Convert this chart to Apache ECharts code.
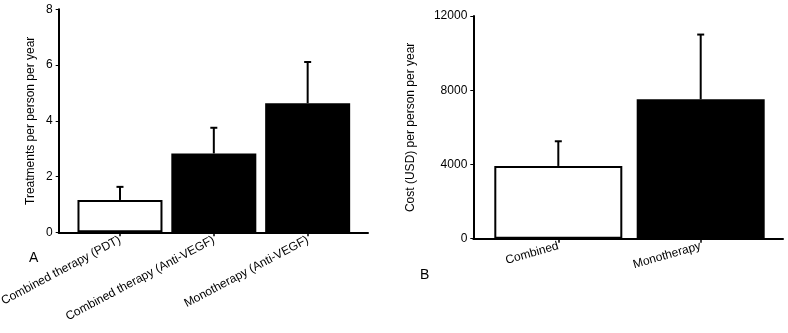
<!DOCTYPE html>
<html>
<head>
<meta charset="utf-8">
<script src="https://cdn.jsdelivr.net/npm/echarts@6/dist/echarts.min.js"></script>
<style>
  html, body { margin: 0; padding: 0; background: #fff; }
  #chart { width: 788px; height: 333px; }
</style>
</head>
<body>
<div id="chart"></div>
<script>
// panel A - treatments
const treatCategories = ['Combined therapy (PDT)', 'Combined therapy (Anti-VEGF)', 'Monotherapy (Anti-VEGF)']
const treatMeans = [1.16, 2.83, 4.63]
const treatUpper = [1.63, 3.75, 6.11]
const treatColors = ['#ffffff', '#000000', '#000000']

// panel B - cost
const costCategories = ['Combined', 'Monotherapy']
const costMeans = [3920, 7510]
const costUpper = [5250, 11000]
const costColors = ['#ffffff', '#000000']

const fontFamily = 'Liberation Sans, Arial, sans-serif'

const myChart = echarts.init(document.getElementById('chart'))

function barData (means, colors) {
  return means.map((v, i) => ({
    value: [i, v],
    itemStyle: {
      color: colors[i],
      borderColor: '#000',
      borderWidth: colors[i] === '#ffffff' ? 2 : 0
    }
  }))
}

function errData (means, upper) {
  return means.map((v, i) => [i, v, upper[i]])
}

// upward error bar with a small cap
function renderErr (params, api) {
  const x = api.value(0)
  const lo = api.coord([x, api.value(1)])
  const hi = api.coord([x, api.value(2)])
  const style = { stroke: '#000', lineWidth: 2, fill: null }
  return {
    type: 'group',
    children: [
      { type: 'line', shape: { x1: lo[0], y1: lo[1], x2: hi[0], y2: hi[1] }, style: style },
      { type: 'line', shape: { x1: hi[0] - 3.5, y1: hi[1], x2: hi[0] + 3.5, y2: hi[1] }, style: style }
    ]
  }
}

function xAxisFor (gridIndex, cats, min, max, rotate) {
  return {
    type: 'value',
    gridIndex: gridIndex,
    min: min,
    max: max,
    splitLine: { show: false },
    axisLine: { show: true, onZero: false, lineStyle: { color: '#000', width: 2 } },
    axisTick: { show: true, length: 4, customValues: cats.map((c, i) => i), lineStyle: { color: '#000', width: 1.5 } },
    axisLabel: {
      customValues: cats.map((c, i) => i),
      formatter: v => cats[Math.round(v)] || '',
      rotate: rotate,
      margin: 7,
      color: '#000',
      fontSize: 12,
      fontFamily: fontFamily
    }
  }
}

function yAxisFor (gridIndex, name, max, interval, nameGap) {
  return {
    type: 'value',
    gridIndex: gridIndex,
    min: 0,
    max: max,
    interval: interval,
    name: name,
    nameLocation: 'middle',
    nameGap: nameGap,
    nameTextStyle: { color: '#000', fontSize: 12, fontFamily: fontFamily },
    splitLine: { show: false },
    axisLine: { show: true, onZero: false, lineStyle: { color: '#000', width: 2 } },
    axisTick: { show: true, length: 3, lineStyle: { color: '#000', width: 1 } },
    axisLabel: { color: '#000', fontSize: 12, margin: 6, fontFamily: fontFamily, formatter: v => String(v) }
  }
}

const option = {
  backgroundColor: '#fff',
  animation: false,
  title: [
    { text: 'A', left: 24, top: 246, textStyle: { fontSize: 14, fontWeight: 'normal', color: '#000', fontFamily: fontFamily } },
    { text: 'B', left: 415, top: 263, textStyle: { fontSize: 14, fontWeight: 'normal', color: '#000', fontFamily: fontFamily } }
  ],
  grid: [
    { left: 58.7, top: 9.3, width: 309.3, height: 223, containLabel: false, outerBoundsMode: 'none' },
    { left: 473.3, top: 16, width: 309.7, height: 222.7, containLabel: false, outerBoundsMode: 'none' }
  ],
  xAxis: [
    xAxisFor(0, treatCategories, -0.653, 2.643, 28),
    xAxisFor(1, costCategories, -0.597, 1.578, 16)
  ],
  yAxis: [
    yAxisFor(0, 'Treatments per person per year', 8, 2, 22),
    yAxisFor(1, 'Cost (USD) per person per year', 12000, 4000, 57)
  ],
  series: [
    {
      type: 'bar',
      xAxisIndex: 0,
      yAxisIndex: 0,
      barWidth: 85,
      data: barData(treatMeans, treatColors)
    },
    {
      type: 'custom',
      xAxisIndex: 0,
      yAxisIndex: 0,
      renderItem: renderErr,
      data: errData(treatMeans, treatUpper),
      z: 1
    },
    {
      type: 'bar',
      xAxisIndex: 1,
      yAxisIndex: 1,
      barWidth: 128,
      data: barData(costMeans, costColors)
    },
    {
      type: 'custom',
      xAxisIndex: 1,
      yAxisIndex: 1,
      renderItem: renderErr,
      data: errData(costMeans, costUpper),
      z: 1
    }
  ]
}
myChart.setOption(option)
</script>
</body>
</html>
